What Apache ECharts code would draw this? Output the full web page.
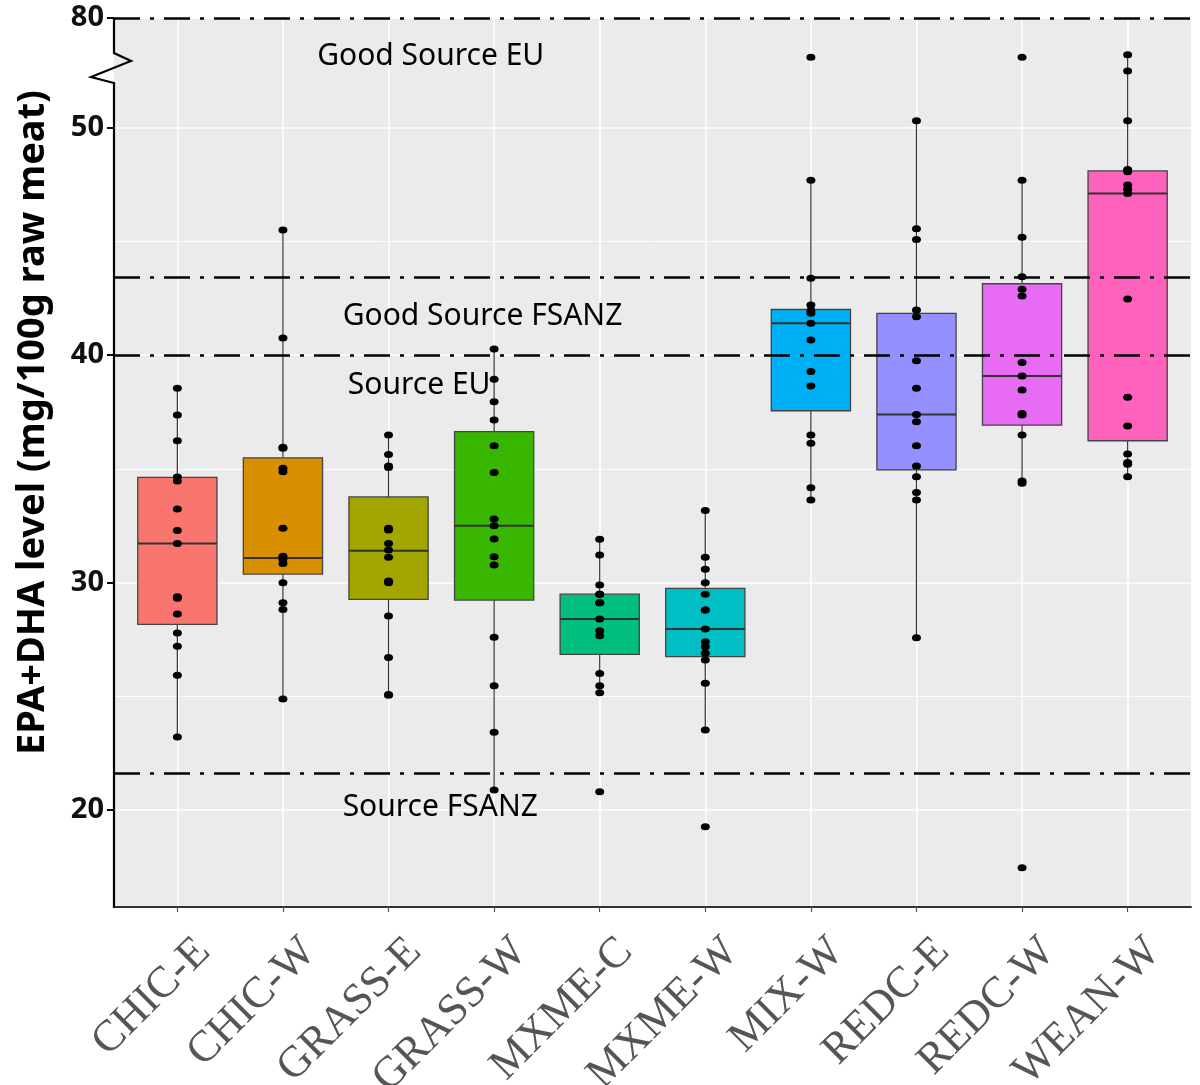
<!DOCTYPE html>
<html><head><meta charset="utf-8">
<script src="https://cdn.jsdelivr.net/npm/echarts@6/dist/echarts.min.js"></script>
<style>html,body{margin:0;padding:0;background:#fff}#c{width:1200px;height:1085px}</style>
</head><body><div id="c"></div>
<script>
// ---------------- data ----------------
const categories = ['CHIC-E','CHIC-W','GRASS-E','GRASS-W','MXME-C','MXME-W','MIX-W','REDC-E','REDC-W','WEAN-W'];
const boxColors = ['#F8766D','#D89000','#A3A500','#39B600','#00BF7D','#00BFC4','#00B0F6','#9590FF','#E76BF3','#FF62BC'];
// box statistics (display scale of the broken axis)
const whiskerLow  = [23.21, 24.88, 25.05, 20.88, 25.16, 23.52, 33.63, 27.57, 34.36, 34.65];
const q1          = [28.16, 30.37, 29.26, 29.23, 26.84, 26.74, 37.55, 34.95, 36.92, 36.23];
const median      = [31.71, 31.08, 31.40, 32.50, 28.40, 27.96, 41.39, 37.39, 39.08, 47.10];
const q3          = [34.62, 35.48, 33.76, 36.63, 29.49, 29.74, 42.00, 41.83, 43.13, 48.09];
const whiskerHigh = [38.54, 45.49, 36.48, 40.26, 31.90, 33.16, 47.68, 50.29, 47.68, 53.19];
// individual observations
const pCHIC_E  = [38.54, 37.36, 36.23, 34.64, 34.46, 33.23, 32.29, 31.71, 29.38, 29.31, 28.62, 27.78, 27.20, 25.92, 23.21];
const pCHIC_W  = [45.49, 40.75, 35.95, 35.90, 35.02, 34.87, 32.38, 31.16, 31.02, 30.84, 29.99, 29.11, 28.82, 24.88];
const pGRASS_E = [36.48, 35.63, 35.12, 35.06, 32.38, 32.31, 31.72, 31.43, 31.11, 30.07, 29.99, 28.53, 26.70, 25.08, 25.05];
const pGRASS_W = [40.26, 38.93, 37.95, 37.14, 36.01, 34.84, 32.79, 32.50, 31.91, 31.13, 30.77, 27.59, 25.46, 23.42, 20.88];
const pMXME_C  = [31.90, 31.21, 29.89, 29.49, 29.49, 29.11, 29.11, 28.40, 27.88, 27.66, 26.00, 25.46, 25.16, 20.80];
const pMXME_W  = [33.16, 31.11, 30.58, 29.99, 29.49, 28.79, 28.79, 27.96, 27.40, 27.18, 26.89, 26.59, 25.57, 23.52, 19.27];
const pMIX_W   = [53.09, 47.68, 43.37, 42.20, 41.95, 41.83, 41.39, 40.66, 39.27, 38.64, 36.48, 36.12, 34.17, 33.63];
const pREDC_E  = [50.29, 45.55, 45.07, 41.98, 41.68, 39.75, 38.54, 37.39, 37.07, 36.01, 35.12, 34.65, 33.96, 33.63, 27.57];
const pREDC_W  = [53.09, 47.68, 45.17, 43.44, 42.89, 42.59, 39.67, 39.08, 38.46, 37.43, 37.36, 36.48, 34.46, 34.36, 17.46];
const pWEAN_W  = [53.19, 52.48, 50.29, 48.15, 48.05, 47.47, 47.28, 47.10, 42.46, 38.14, 36.88, 35.65, 35.27, 35.20, 34.65];
const groupPoints = [pCHIC_E, pCHIC_W, pGRASS_E, pGRASS_W, pMXME_C, pMXME_W, pMIX_W, pREDC_E, pREDC_W, pWEAN_W];
// axis
const yMin = 15.74, yMax = 54.81;
const yTickValues = [20, 30, 40, 50, 54.81];
const yTickLabels = ['20', '30', '40', '50', '80'];
const yMinorValues = [25, 35, 45];
// reference lines & annotations
const refLines = [54.81, 43.43, 40, 21.6];
const annoText = ['Good Source EU', 'Good Source FSANZ', 'Source EU', 'Source FSANZ'];
const annoX = [3.40, 3.89, 3.29, 3.49];
const annoY = [53.1, 41.71, 38.64, 20.13];

// ---------------- chart ----------------
const chart = echarts.init(document.getElementById('c'), null, {renderer: 'canvas'});
const catIdx = categories.map((c, i) => i + 1);

const boxData = categories.map((c, i) => [i + 1, whiskerLow[i], q1[i], median[i], q3[i], whiskerHigh[i]]);
const pointData = [];
groupPoints.forEach((arr, i) => arr.forEach(v => pointData.push([i + 1, v])));

function yLabel(v) {
  let best = 0, d = 1e9;
  yTickValues.forEach((t, i) => { if (Math.abs(t - v) < d) { d = Math.abs(t - v); best = i; } });
  return d < 0.05 ? yTickLabels[best] : '';
}

const option = {
  animation: false,
  backgroundColor: '#ffffff',
  grid: [{
    left: 114, right: 9, top: 18, bottom: 178,
    show: true, backgroundColor: '#EBEBEB', borderWidth: 0,
    containLabel: false, outerBoundsMode: 'none'
  }],
  xAxis: [{
    type: 'value', gridIndex: 0, min: 0.4, max: 10.6,
    axisLine: {show: true, onZero: false, lineStyle: {color: '#333', width: 2}},
    axisTick: {show: true, customValues: catIdx, length: 5, lineStyle: {color: '#555', width: 1.2}},
    axisLabel: {
      show: true, customValues: catIdx,
      formatter: v => categories[Math.round(v) - 1] || '',
      rotate: 45, align: 'right', verticalAlign: 'top', margin: 12, lineHeight: 74,
      fontFamily: 'Liberation Serif', fontSize: 44, color: '#555555'
    },
    splitLine: {show: true, lineStyle: {color: '#ffffff', width: 1.6}}
  }],
  yAxis: [{
    type: 'value', gridIndex: 0, min: yMin, max: yMax,
    name: 'EPA+DHA level (mg/100g raw meat)',
    nameLocation: 'middle', nameGap: 62,
    nameTextStyle: {fontFamily: 'Noto Sans', fontWeight: 'bold', fontSize: 38, color: '#000', padding: [0, 0, 0, 80]},
    axisLine: {show: false},
    axisTick: {show: true, customValues: yTickValues, length: 7, lineStyle: {color: '#000', width: 2}},
    axisLabel: {show: true, customValues: yTickValues, formatter: yLabel, margin: 10,
      fontFamily: 'Noto Sans', fontWeight: 'bold', fontSize: 29, color: '#111'},
    splitLine: {show: true, lineStyle: {color: '#ffffff', width: 1.6}}
  }, {
    type: 'value', gridIndex: 0, min: yMin, max: yMax, position: 'left',
    axisLine: {show: false},
    axisTick: {show: false, customValues: yMinorValues},
    axisLabel: {show: false},
    splitLine: {show: true, lineStyle: {color: '#ffffff', width: 0.9}}
  }],
  series: [{
    type: 'custom', name: 'boxes', xAxisIndex: 0, yAxisIndex: 0,
    encode: {x: 0, y: [1, 2, 3, 4, 5]},
    z: 3,
    renderItem: function (params, api) {
      const x = api.value(0);
      const lo = api.coord([x, api.value(1)]);
      const b1 = api.coord([x, api.value(2)]);
      const md = api.coord([x, api.value(3)]);
      const b3 = api.coord([x, api.value(4)]);
      const hi = api.coord([x, api.value(5)]);
      const w = api.size([0.75, 0])[0];
      const col = boxColors[params.dataIndex];
      const ls = {stroke: '#333', lineWidth: 1.2};
      return {type: 'group', children: [
        {type: 'line', shape: {x1: hi[0], y1: hi[1], x2: b3[0], y2: b3[1]}, style: ls},
        {type: 'line', shape: {x1: b1[0], y1: b1[1], x2: lo[0], y2: lo[1]}, style: ls},
        {type: 'rect', shape: {x: b3[0] - w / 2, y: b3[1], width: w, height: b1[1] - b3[1]},
          style: {fill: col, stroke: '#444', lineWidth: 1.3}},
        {type: 'line', shape: {x1: md[0] - w / 2, y1: md[1], x2: md[0] + w / 2, y2: md[1]},
          style: {stroke: '#333', lineWidth: 2}}
      ]};
    },
    data: boxData
  }, {
    type: 'scatter', name: 'points', xAxisIndex: 0, yAxisIndex: 0, z: 5,
    symbol: 'circle', symbolSize: [9, 7],
    itemStyle: {color: '#000', opacity: 1},
    data: pointData
  }, {
    type: 'scatter', name: 'annotations', xAxisIndex: 0, yAxisIndex: 0, z: 4,
    symbol: 'circle', symbolSize: 1, itemStyle: {color: 'rgba(0,0,0,0)'},
    label: {show: true, position: 'inside', formatter: '{b}',
      fontFamily: 'Noto Sans', fontSize: 30, color: '#000', opacity: 1},
    data: annoX.map((x, i) => ({value: [x, annoY[i]], name: annoText[i]})),
    markLine: {
      silent: true, symbol: ['none', 'none'], label: {show: false},
      lineStyle: {color: '#000', width: 2.5, type: [26, 10, 4, 10]},
      data: refLines.map(v => ({yAxis: v}))
    }
  }]
};
chart.setOption(option);

// broken-axis line with zigzag (decoration)
const pTop = chart.convertToPixel({gridIndex: 0}, [0.4, yMax]);
const pBot = chart.convertToPixel({gridIndex: 0}, [0.4, yMin]);
const ax = pTop[0], t = pTop[1];
chart.setOption({graphic: [{
  type: 'polyline', z: 100, silent: true,
  shape: {points: [[ax, t], [ax, t + 35], [ax + 17, t + 43], [ax - 23, t + 59], [ax, t + 65], [ax, pBot[1] + 1]]},
  style: {stroke: '#000', lineWidth: 2.2, fill: null}
}]});
</script></body></html>
